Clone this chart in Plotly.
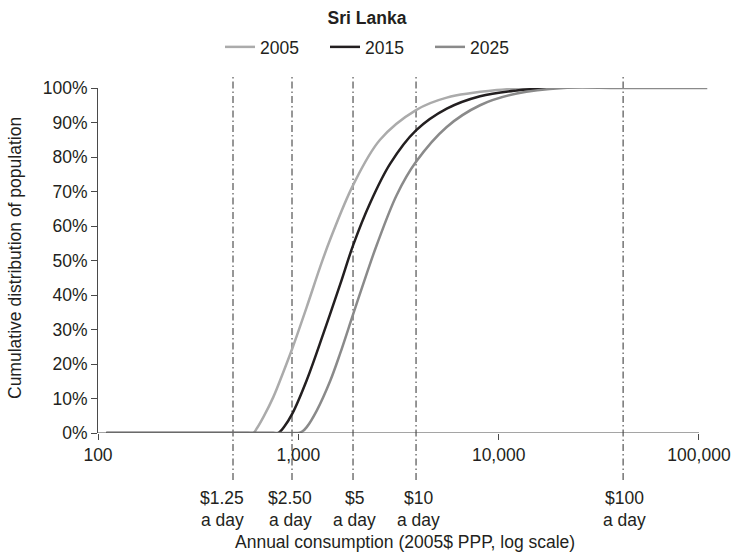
import math
import plotly.graph_objects as go

# ---------------- data ----------------
series_names = ["2005", "2015", "2025"]
series_colors = ["#ababab", "#231f20", "#8a8a8a"]

x_2005 = [110, 560, 596, 620, 669, 750, 842, 933, 1101, 1283, 1440, 1882, 2558, 3868, 5507, 9784, 16000]
y_2005 = [0, 0, 0, 1.3, 4.6, 10.4, 17.7, 24.5, 36.5, 48.0, 56.0, 72.0, 85.0, 93.6, 97.2, 99.4, 100]

x_2015 = [110, 750, 795, 850, 933, 1101, 1333, 1616, 1882, 2280, 2870, 3868, 5507, 8075, 12315, 18060]
y_2015 = [0, 0, 0, 1.8, 5.6, 15.3, 28.8, 43.0, 54.6, 66.6, 78.0, 87.7, 94.0, 97.6, 99.3, 100]

x_2025 = [110, 950, 1000, 1050, 1101, 1236, 1440, 1616, 1882, 2195, 2463, 3099, 3868, 5507, 8075, 12315, 21040, 40000, 110000]
y_2025 = [0, 0, 0, 0.5, 1.7, 6.5, 15.0, 23.0, 34.6, 46.2, 54.5, 69.0, 78.6, 88.7, 95.0, 98.4, 100, 100, 100]

series_x = [x_2005, x_2015, x_2025]
series_y = [y_2005, y_2015, y_2025]

x_tick_vals = [100, 1000, 10000, 100000]
x_tick_text = ["100", "1,000", "10,000", "100,000"]
y_tick_vals = [0, 10, 20, 30, 40, 50, 60, 70, 80, 90, 100]
y_tick_text = ["0%", "10%", "20%", "30%", "40%", "50%", "60%", "70%", "80%", "90%", "100%"]

poverty_values = [472, 930, 1875, 3869, 41800]
poverty_labels = ["$1.25", "$2.50", "$5", "$10", "$100"]
poverty_sub = ["a day", "a day", "a day", "a day", "a day"]
poverty_shift = [-11, -2, 1, 2, 1]

title_text = "Sri Lanka"
x_title = "Annual consumption (2005$ PPP, log scale)"
y_title = "Cumulative distribution of population"

# ---------------- figure ----------------
FONT = "Liberation Sans, Arial, sans-serif"
FS = 17.5
TXT = "#231f20"
AX = "#4a4a4a"
PLOT_TOP, PLOT_BOTTOM, PLOT_LEFT = 88, 433, 98
PH = PLOT_BOTTOM - PLOT_TOP
PW = 610


def py(pix):
    return (PLOT_BOTTOM - pix) / PH


def px(pix):
    return (pix - PLOT_LEFT) / PW


fig = go.Figure()
for name, xs, ys, col in zip(series_names, series_x, series_y, series_colors):
    fig.add_trace(go.Scatter(
        x=xs, y=ys, name=name, mode="lines",
        line=dict(color=col, width=2.5, shape="spline", smoothing=1.0),
    ))

shapes = []
for v in poverty_values:
    shapes.append(dict(
        type="line", xref="x", yref="paper", x0=v, x1=v, y0=py(480), y1=py(76),
        line=dict(color="#2e2e2e", width=1, dash="7px,3px,1.5px,3px"), layer="below",
    ))
shapes.append(dict(type="line", xref="x", yref="y", x0=100, x1=100000, y0=0, y1=0,
                   line=dict(color=AX, width=1)))

annotations = []
for v, lab, sub, sh in zip(poverty_values, poverty_labels, poverty_sub, poverty_shift):
    for txt, ypix in ((lab, 498), (sub, 520)):
        annotations.append(dict(x=math.log10(v), xref="x", y=py(ypix), yref="paper",
                                text=txt, showarrow=False, xshift=sh,
                                font=dict(family=FONT, size=FS, color=TXT),
                                xanchor="center", yanchor="middle"))

annotations.append(dict(x=px(405), xref="paper", y=py(542), yref="paper",
                        text=x_title, showarrow=False,
                        font=dict(family=FONT, size=FS, color=TXT),
                        xanchor="center", yanchor="middle"))
annotations.append(dict(x=px(15), xref="paper", y=py(258), yref="paper",
                        text=y_title, showarrow=False, textangle=-90,
                        font=dict(family=FONT, size=FS, color=TXT),
                        xanchor="center", yanchor="middle"))

fig.update_layout(
    width=735, height=555,
    margin=dict(l=PLOT_LEFT, r=27, t=PLOT_TOP, b=555 - PLOT_BOTTOM),
    paper_bgcolor="white", plot_bgcolor="white",
    font=dict(family=FONT, size=FS, color=TXT),
    title=dict(text="<b>" + title_text + "</b>", x=367 / 735, xref="container", xanchor="center",
               y=1 - 18 / 555, yref="container", yanchor="middle",
               font=dict(family=FONT, size=FS, color=TXT)),
    showlegend=True,
    legend=dict(orientation="h", x=px(220), xanchor="left",
                y=py(47), yanchor="middle",
                font=dict(family=FONT, size=FS, color=TXT),
                entrywidth=60, entrywidthmode="pixels",
                bgcolor="rgba(0,0,0,0)"),
    xaxis=dict(type="log", range=[2, 5.045], showgrid=False, zeroline=False,
               showline=False, tickvals=x_tick_vals, ticktext=x_tick_text,
               ticks="outside", ticklen=6, tickcolor=AX, tickwidth=1,
               automargin=False,
               tickfont=dict(family=FONT, size=FS, color=TXT)),
    yaxis=dict(range=[0, 100], showgrid=False, zeroline=False,
               showline=True, linecolor=AX, linewidth=1,
               tickvals=y_tick_vals, ticktext=y_tick_text,
               ticks="outside", ticklen=6, tickcolor=AX, tickwidth=1,
               automargin=False,
               tickfont=dict(family=FONT, size=FS, color=TXT)),
    shapes=shapes, annotations=annotations,
)

fig.write_html("out.html")
